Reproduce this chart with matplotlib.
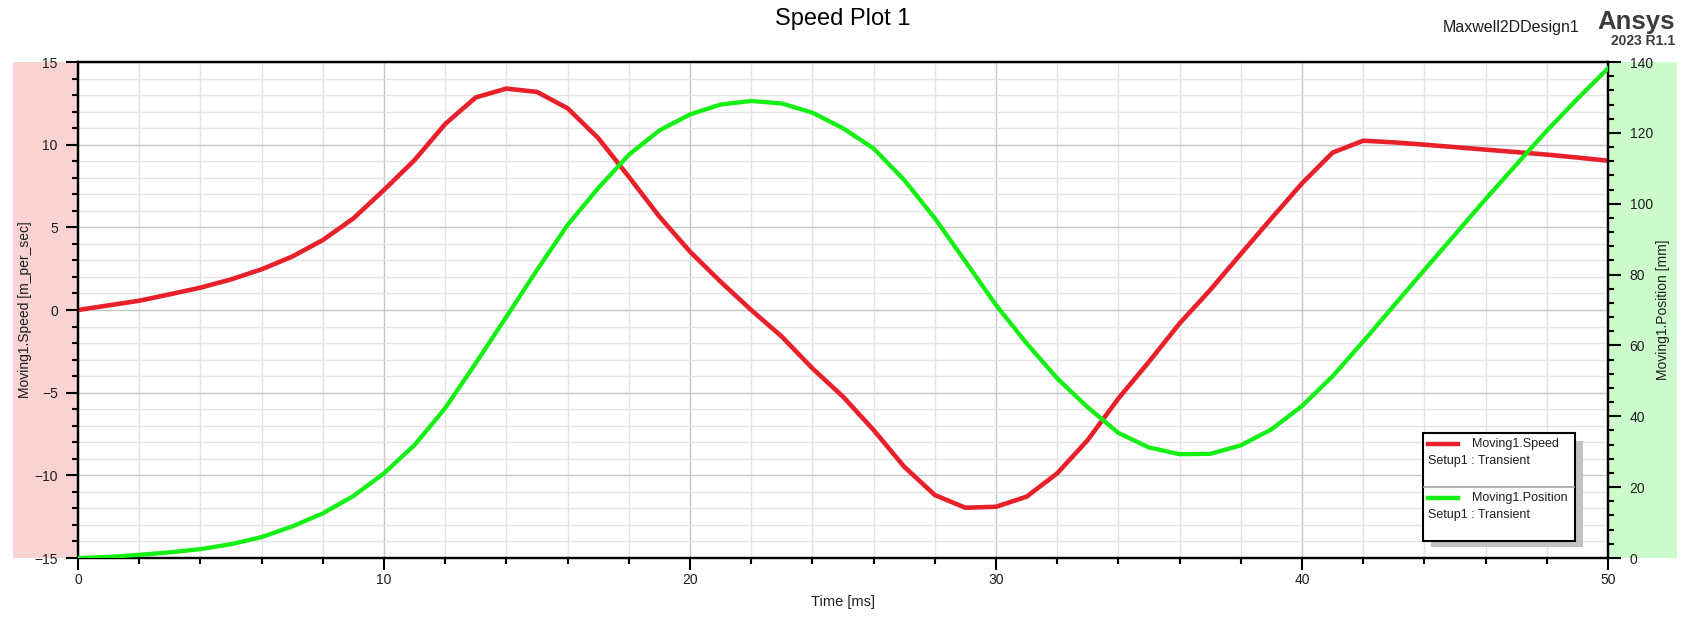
import matplotlib
matplotlib.use("Agg")
import matplotlib.pyplot as plt
from matplotlib.patches import Rectangle
from matplotlib.lines import Line2D
from matplotlib.ticker import MultipleLocator

plt.rcParams['font.family'] = ['Liberation Sans', 'DejaVu Sans']

# ---- data ----
time_ms = list(range(0, 51))
speed = [0.0, 0.28, 0.56, 0.95, 1.35, 1.85, 2.46, 3.23, 4.23, 5.54,
         7.26, 9.07, 11.25, 12.86, 13.39, 13.19, 12.2, 10.4, 8.06, 5.65,
         3.53, 1.71, 0.0, -1.61, -3.53, -5.24, -7.26, -9.48, -11.19, -11.96,
         -11.9, -11.29, -9.88, -7.86, -5.35, -3.13, -0.81, 1.21, 3.39, 5.54,
         7.66, 9.52, 10.24, 10.14, 10.0, 9.85, 9.7, 9.55, 9.4, 9.22,
         9.03]
position = [0.0, 0.3, 0.9, 1.6, 2.5, 3.9, 5.9, 8.9, 12.6, 17.5,
            23.9, 31.9, 42.3, 55.0, 68.1, 81.3, 94.0, 104.4, 113.8, 120.7,
            125.2, 128.0, 129.0, 128.3, 125.7, 121.3, 115.6, 106.7, 95.9, 83.7,
            71.4, 60.6, 50.7, 42.5, 35.3, 31.2, 29.3, 29.4, 31.8, 36.3,
            42.9, 51.3, 61.1, 71.2, 81.3, 91.3, 101.3, 111.0, 120.6, 129.6,
            138.2]
speed_name = "Moving1.Speed"
pos_name = "Moving1.Position"
setup_name = "Setup1 : Transient"

W, H = 1690, 617
RED = '#e8202a'
GREEN = '#14f014'
TXT = '#1e1e1e'

def fx(x):
    return x / W

def fy(y):
    return 1 - y / H

fig = plt.figure(figsize=(W / 100, H / 100), dpi=100)

# side bands
fig.patches.append(Rectangle((fx(13), fy(558)), (78 - 13) / W, (558 - 62) / H,
                             transform=fig.transFigure, facecolor='#f9d2d2',
                             edgecolor='none', zorder=-5))
fig.patches.append(Rectangle((fx(1608), fy(558)), (1677 - 1608) / W, (558 - 62) / H,
                             transform=fig.transFigure, facecolor='#ccfccc',
                             edgecolor='none', zorder=-5))

ax = fig.add_axes([fx(78), fy(558), (1608 - 78) / W, (558 - 62) / H])
ax.set_zorder(1)
ax.set_xlim(0, 50)
ax.set_ylim(-15, 15)
ax.xaxis.set_major_locator(MultipleLocator(10))
ax.xaxis.set_minor_locator(MultipleLocator(2))
ax.yaxis.set_major_locator(MultipleLocator(5))
ax.yaxis.set_minor_locator(MultipleLocator(1))
ax.grid(which='minor', color='#e4e4e4', linewidth=1.0, zorder=0)
ax.grid(which='major', color='#c6c6c6', linewidth=1.0, zorder=0)
ax.set_axisbelow(True)
for s in ax.spines.values():
    s.set_linewidth(1.6)
    s.set_color('black')
ax.tick_params(axis='both', which='major', direction='out', length=8.5,
               width=1.5, labelsize=10, labelcolor=TXT)
ax.tick_params(axis='both', which='minor', direction='out', length=4.3, width=1.5)
ax.tick_params(axis='y', which='major', pad=6)
ax.tick_params(axis='x', which='major', pad=2)
ax.tick_params(right=False, top=False, which='both')

ax.plot(time_ms, speed, color=RED, linewidth=3.3, zorder=3)

ax.set_xlabel("Time [ms]", fontsize=10.5, color=TXT)
ax.xaxis.set_label_coords(0.5, (558 - 602) / 496, transform=ax.transAxes)
ax.xaxis.label.set_va('center')
ax.set_ylabel("Moving1.Speed [m_per_sec]", fontsize=10, color=TXT)
ax.yaxis.set_label_coords((25 - 78) / 1530, 0.5)
ax.yaxis.label.set_va('center')

ax2 = ax.twinx()
ax2.set_zorder(2)
ax2.patch.set_visible(False)
ax2.set_ylim(0, 140)
ax2.yaxis.set_major_locator(MultipleLocator(20))
ax2.yaxis.set_minor_locator(MultipleLocator(4))
for s in ax2.spines.values():
    s.set_linewidth(1.6)
    s.set_color('black')
ax2.tick_params(axis='y', which='major', direction='out', length=9.5, width=1.5,
                labelsize=10, labelcolor=TXT, pad=6)
ax2.tick_params(axis='y', which='minor', direction='out', length=4.3, width=1.5)
ax2.plot(time_ms, position, color=GREEN, linewidth=3.1, zorder=3)
ax2.set_ylabel("Moving1.Position [mm]", fontsize=10, color=TXT, rotation=90)
ax2.yaxis.set_label_coords((1663 - 78) / 1530, 0.5)
ax2.yaxis.label.set_va('center')

# titles
fig.text(fx(843), fy(25), "Speed Plot 1", ha='center', va='baseline',
         fontsize=17, color='black')
fig.text(fx(1443), fy(32), "Maxwell2DDesign1", ha='left', va='baseline',
         fontsize=11.5, color=TXT)
fig.text(fx(1675), fy(29.5), "Ansys", ha='right', va='baseline',
         fontsize=18.5, fontweight='bold', color='#3c3c3c')
fig.text(fx(1675), fy(45), "2023 R1.1", ha='right', va='baseline',
         fontsize=10, fontweight='bold', color='#3c3c3c')

# legend (manual, Ansys style)
fig.patches.append(Rectangle((fx(1431), fy(547)), (1583 - 1431) / W, (547 - 441) / H,
                             transform=fig.transFigure, facecolor='#c2c2c2',
                             edgecolor='none', zorder=10))
fig.patches.append(Rectangle((fx(1423), fy(541)), (1575 - 1423) / W, (541 - 433) / H,
                             transform=fig.transFigure, facecolor='white',
                             edgecolor='black', linewidth=1.5, zorder=11))
fig.lines.append(Line2D([fx(1424), fx(1574)], [fy(487), fy(487)],
                        transform=fig.transFigure, color='#a8a8a8', linewidth=1.3,
                        zorder=12))
entries = [(speed_name, RED, 444), (pos_name, GREEN, 498)]
for name, col, yy in entries:
    fig.lines.append(Line2D([fx(1428), fx(1458)], [fy(yy), fy(yy)],
                            transform=fig.transFigure, color=col, linewidth=3.2,
                            zorder=12))
    fig.text(fx(1472), fy(yy), name, ha='left', va='center', fontsize=9,
             color=TXT, zorder=13)
    fig.text(fx(1428), fy(yy + 17), setup_name, ha='left', va='center',
             fontsize=9, color=TXT, zorder=13)

fig.savefig("out.png", dpi=100)
